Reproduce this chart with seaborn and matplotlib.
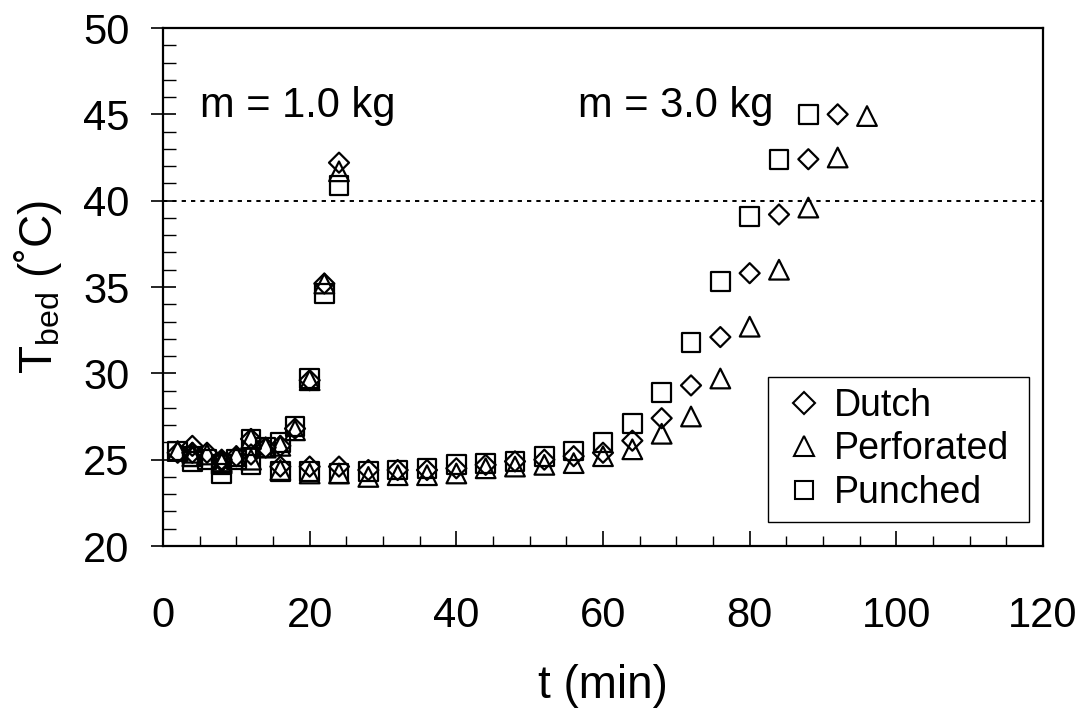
import numpy as np
import pandas as pd
import matplotlib
matplotlib.use("Agg")
import matplotlib.pyplot as plt
from matplotlib.lines import Line2D
from matplotlib.ticker import MultipleLocator
import seaborn as sns

# ---- data ----
t_1kg = [2, 4, 6, 8, 10, 12, 14, 16, 18, 20, 22, 24]
dutch_1kg = [25.4, 25.8, 25.4, 25.0, 25.2, 26.2, 25.7, 25.8, 26.8, 29.6, 35.2, 42.2]
perf_1kg = [25.5, 25.4, 25.3, 24.9, 25.2, 26.2, 25.7, 25.8, 26.7, 29.6, 35.2, 41.7]
punch_1kg = [25.5, 25.2, 25.0, 24.7, 25.0, 26.2, 25.7, 26.0, 26.9, 29.7, 34.6, 40.9]

t_3kg = [4, 8, 12, 16, 20, 24, 28, 32, 36, 40, 44, 48, 52, 56, 60, 64, 68, 72, 76, 80, 84, 88, 92, 96]
dutch_3kg = [25.4, 24.9, 25.3, 24.6, 24.6, 24.6, 24.4, 24.4, 24.4, 24.5, 24.7, 24.9, 25.0, 25.2,
             25.4, 26.1, 27.4, 29.3, 32.1, 35.8, 39.2, 42.4, 45.0, np.nan]
perf_3kg = [25.2, 24.8, 25.0, 24.4, 24.2, 24.2, 24.0, 24.1, 24.1, 24.2, 24.5, 24.6, 24.7, 24.8,
            25.2, 25.6, 26.5, 27.5, 29.7, 32.7, 36.0, 39.6, 42.5, 44.9]
punch_3kg = [24.9, 24.2, 24.7, 24.3, 24.3, 24.2, 24.3, 24.4, 24.5, 24.7, 24.8, 24.9, 25.2, 25.5,
             26.0, 27.1, 28.9, 31.8, 35.3, 39.1, 42.4, 45.0, np.nan, np.nan]

series_names = ["Dutch", "Perforated", "Punched"]
x_ticks = [0, 20, 40, 60, 80, 100, 120]
y_ticks = [20, 25, 30, 35, 40, 45, 50]
threshold = 40

sns.set_style("ticks")
plt.rcParams["font.family"] = ["Liberation Sans", "DejaVu Sans"]
plt.rcParams["mathtext.fontset"] = "custom"
plt.rcParams["mathtext.rm"] = "Liberation Sans"
plt.rcParams["text.color"] = "black"
plt.rcParams["axes.labelcolor"] = "black"
plt.rcParams["xtick.color"] = "black"
plt.rcParams["ytick.color"] = "black"

fig = plt.figure(figsize=(10.83, 7.13), dpi=100)
ax = fig.add_axes([163 / 1083, 1 - 546 / 713, 880 / 1083, 518 / 713])

styles = {
    "Dutch": dict(marker="D", s=104),
    "Perforated": dict(marker="^", s=200),
    "Punched": dict(marker="s", s=185),
}

data = {
    "Dutch": (dutch_1kg, dutch_3kg),
    "Perforated": (perf_1kg, perf_3kg),
    "Punched": (punch_1kg, punch_3kg),
}

for name in series_names:
    v1, v3 = data[name]
    df = pd.DataFrame({"t": list(t_1kg) + list(t_3kg), "T": list(v1) + list(v3)}).dropna()
    sns.scatterplot(data=df, x="t", y="T", ax=ax, marker=styles[name]["marker"],
                    s=styles[name]["s"], color="black", legend=False, zorder=3)
    pc = ax.collections[-1]
    pc.set_facecolor("none")
    pc.set_edgecolor("black")
    pc.set_linewidth(1.6)

ax.axhline(threshold, color="black", lw=1.4, ls=(0, (2.2, 2.6)), zorder=2)

ax.set_xlim(0, 120)
ax.set_ylim(20, 50)
ax.set_xticks(x_ticks)
ax.set_yticks(y_ticks)
ax.xaxis.set_minor_locator(MultipleLocator(5))
ax.yaxis.set_minor_locator(MultipleLocator(1))

ax.tick_params(axis="y", which="major", direction="inout", length=18, width=1.2,
               labelsize=30, pad=15)
ax.tick_params(axis="y", which="minor", direction="in", length=9, width=1.0)
ax.tick_params(axis="x", which="major", direction="in", length=11, width=1.2,
               labelsize=30, pad=36)
ax.tick_params(axis="x", which="minor", direction="in", length=7, width=1.0)

for sp in ax.spines.values():
    sp.set_visible(True)
    sp.set_linewidth(1.6)
    sp.set_color("black")

ax.set_xlabel("t (min)", fontsize=33, labelpad=20)
ax.set_ylabel(r"T$_{\mathregular{bed}}$ (˚C)", fontsize=33, labelpad=14)

ax.text(5.0, 45.5, "m = 1.0 kg", fontsize=30, ha="left", va="center")
ax.text(56.6, 45.5, "m = 3.0 kg", fontsize=30, ha="left", va="center")

handles = [
    Line2D([], [], ls="none", marker="D", markersize=11.5, markerfacecolor="none",
           markeredgecolor="black", markeredgewidth=1.5),
    Line2D([], [], ls="none", marker="^", markersize=15, markerfacecolor="none",
           markeredgecolor="black", markeredgewidth=1.5),
    Line2D([], [], ls="none", marker="s", markersize=13, markerfacecolor="none",
           markeredgecolor="black", markeredgewidth=1.5),
]
leg = ax.legend(handles, series_names, loc="lower left",
                bbox_to_anchor=(0.6875, 0.046, 0.2966, 0.278), mode="expand",
                borderaxespad=0, fontsize=27, frameon=True, fancybox=False,
                edgecolor="black", framealpha=1, handlelength=1.3, handletextpad=0.15,
                labelspacing=0.2, borderpad=0.3)
leg.get_frame().set_linewidth(1.0)

fig.savefig("out.png", dpi=100)
